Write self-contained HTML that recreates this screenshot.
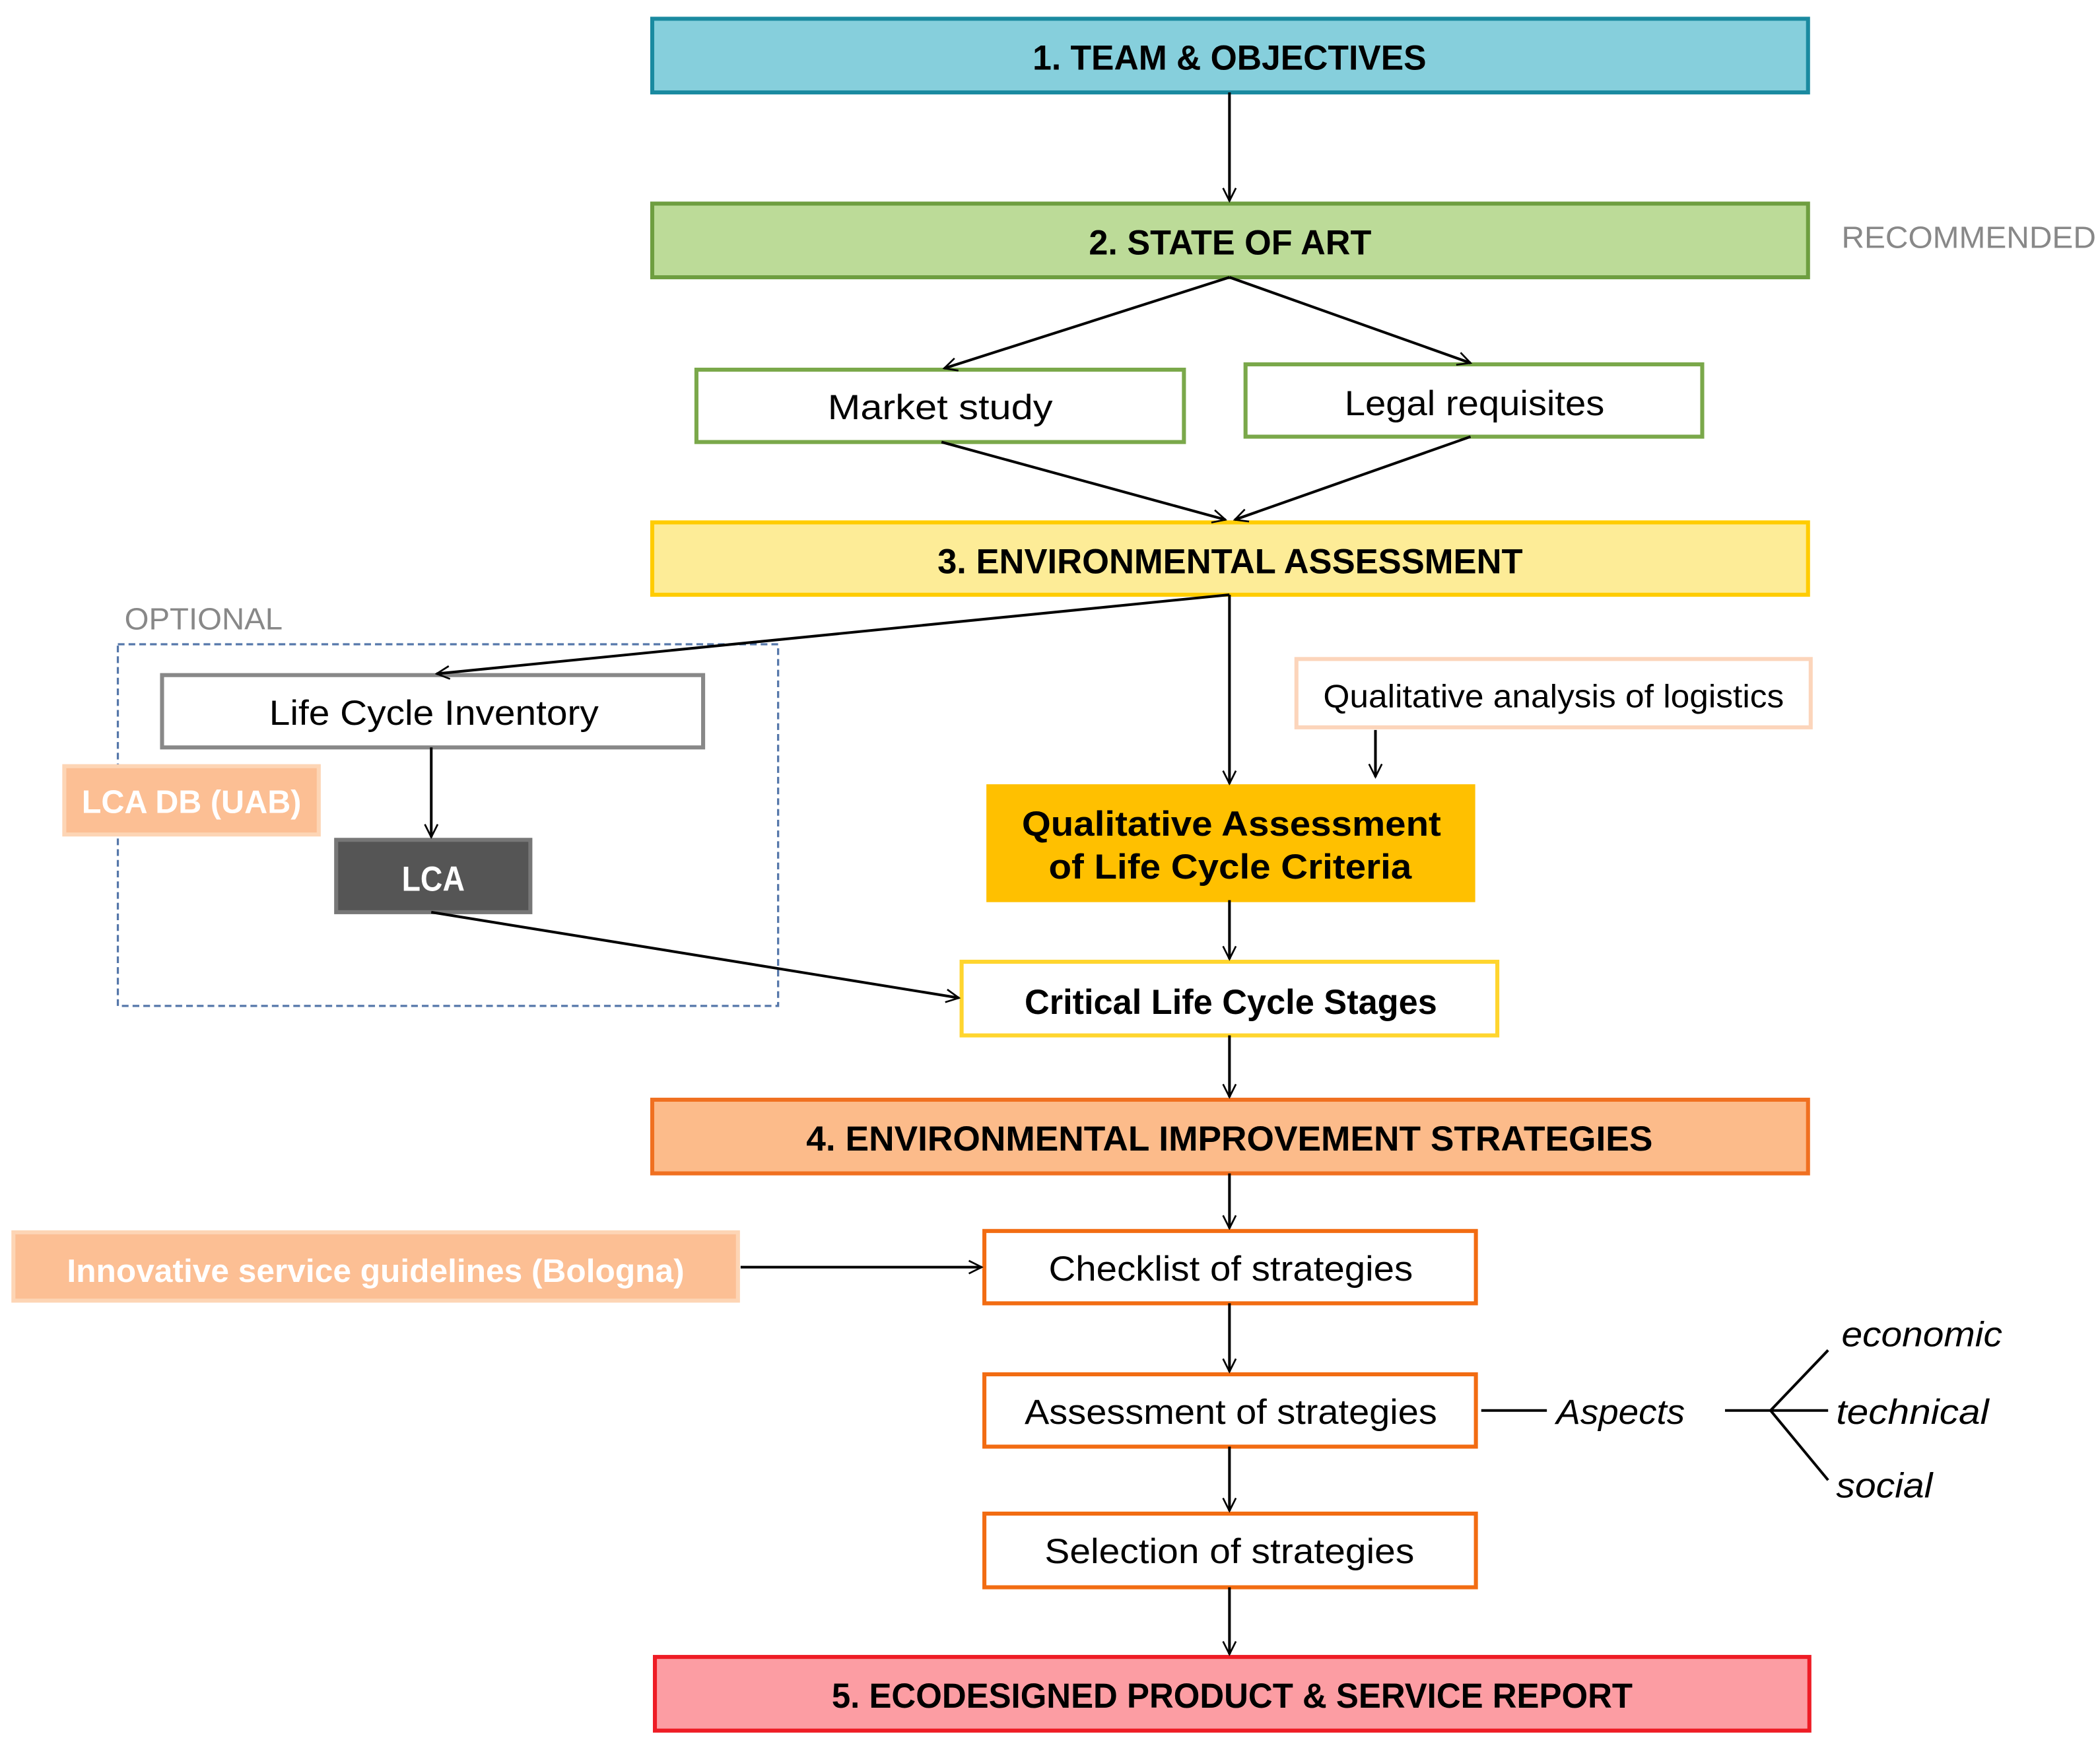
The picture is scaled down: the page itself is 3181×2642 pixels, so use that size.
<!DOCTYPE html>
<html><head><meta charset="utf-8"><style>
html,body{margin:0;padding:0;background:#fff}
svg{display:block}
text{font-family:"Liberation Sans Narrow","Liberation Sans",sans-serif}
</style></head><body>
<svg width="3181" height="2642" viewBox="0 0 1568 1302" preserveAspectRatio="none" xmlns="http://www.w3.org/2000/svg">
<defs>
<marker id="a" viewBox="0 0 20 20" refX="18" refY="10" markerWidth="12" markerHeight="12" markerUnits="userSpaceOnUse" orient="auto">
<path d="M2,2 L18,10 L2,18" fill="none" stroke="#000" stroke-width="2.2"/>
</marker>
</defs>
<g stroke-width="3">
<rect x="487" y="14" width="863" height="55" fill="#86cfdc" stroke="#1a8aa0"/>
<rect x="487" y="152" width="863" height="55" fill="#bcdb98" stroke="#6e9e40"/>
<rect x="520" y="276" width="364" height="54" fill="#fff" stroke="#7aa84a"/>
<rect x="930" y="272" width="341" height="54" fill="#fff" stroke="#7aa84a"/>
<rect x="487" y="390" width="863" height="54" fill="#fdec97" stroke="#ffcc00"/>
<rect x="88" y="481" width="493" height="270" fill="none" stroke="#5577aa" stroke-width="1.6" stroke-dasharray="5,3"/>
<rect x="121" y="504" width="404" height="54" fill="#fff" stroke="#888"/>
<rect x="48" y="572" width="190" height="51" fill="#fcbf94" stroke="#fdd5b5"/>
<rect x="251" y="627" width="145" height="54" fill="#555" stroke="#777"/>
<rect x="968" y="492" width="384" height="51" fill="#fff" stroke="#fcd5bb"/>
<rect x="738" y="587" width="362" height="85" fill="#ffc000" stroke="#ffc000"/>
<rect x="718" y="718" width="400" height="55" fill="#fff" stroke="#ffd52e"/>
<rect x="487" y="821" width="863" height="55" fill="#fcbb8a" stroke="#f07020"/>
<rect x="10" y="920" width="541" height="51" fill="#fcbf94" stroke="#fdd5b5"/>
<rect x="735" y="919" width="367" height="54" fill="#fff" stroke="#f26c12"/>
<rect x="735" y="1026" width="367" height="54" fill="#fff" stroke="#f26c12"/>
<rect x="735" y="1130" width="367" height="55" fill="#fff" stroke="#f26c12"/>
<rect x="489" y="1237" width="862" height="55" fill="#fc9da3" stroke="#ee1c25"/>
</g>
<g stroke="#000" stroke-width="2" fill="none" marker-end="url(#a)">
<line x1="918" y1="69" x2="918" y2="150"/>
<line x1="918" y1="207" x2="705" y2="275"/>
<line x1="918" y1="207" x2="1098" y2="271"/>
<line x1="703" y1="330" x2="915" y2="388"/>
<line x1="1098" y1="326" x2="922" y2="388"/>
<line x1="918" y1="444" x2="918" y2="585"/>
<line x1="918" y1="444" x2="326" y2="503"/>
<line x1="322" y1="558" x2="322" y2="625"/>
<line x1="1027" y1="545" x2="1027" y2="580"/>
<line x1="918" y1="672" x2="918" y2="716"/>
<line x1="322" y1="681" x2="716" y2="745"/>
<line x1="918" y1="773" x2="918" y2="819"/>
<line x1="918" y1="876" x2="918" y2="917"/>
<line x1="553" y1="946" x2="733" y2="946"/>
<line x1="918" y1="973" x2="918" y2="1024"/>
<line x1="918" y1="1080" x2="918" y2="1128"/>
<line x1="918" y1="1185" x2="918" y2="1235"/>
</g>
<g stroke="#000" stroke-width="2" fill="none">
<line x1="1106" y1="1053" x2="1155" y2="1053"/>
<line x1="1288" y1="1053" x2="1365" y2="1053"/>
<line x1="1322" y1="1053" x2="1365" y2="1008"/>
<line x1="1322" y1="1053" x2="1365" y2="1105"/>
</g>
<g font-size="26" text-anchor="start">
<text x="771" y="52" font-weight="bold" textLength="294" lengthAdjust="spacingAndGlyphs">1. TEAM &amp; OBJECTIVES</text>
<text x="813" y="190" font-weight="bold" textLength="211" lengthAdjust="spacingAndGlyphs">2. STATE OF ART</text>
<text x="1375" y="185" font-size="23" fill="#888" textLength="190" lengthAdjust="spacingAndGlyphs">RECOMMENDED</text>
<text x="618" y="313" textLength="168" lengthAdjust="spacingAndGlyphs">Market study</text>
<text x="1004" y="310" textLength="194" lengthAdjust="spacingAndGlyphs">Legal requisites</text>
<text x="700" y="428" font-weight="bold" textLength="437" lengthAdjust="spacingAndGlyphs">3. ENVIRONMENTAL ASSESSMENT</text>
<text x="93" y="470" font-size="23" fill="#888" textLength="118" lengthAdjust="spacingAndGlyphs">OPTIONAL</text>
<text x="201" y="541" textLength="246" lengthAdjust="spacingAndGlyphs">Life Cycle Inventory</text>
<text x="61" y="607" font-size="24" font-weight="bold" fill="#fff" textLength="164" lengthAdjust="spacingAndGlyphs">LCA DB  (UAB)</text>
<text x="300" y="665" font-weight="bold" fill="#fff" textLength="47" lengthAdjust="spacingAndGlyphs">LCA</text>
<text x="988" y="528" font-size="24" textLength="344" lengthAdjust="spacingAndGlyphs">Qualitative analysis of logistics</text>
<text x="763" y="624" font-weight="bold" textLength="313" lengthAdjust="spacingAndGlyphs">Qualitative Assessment</text>
<text x="783" y="656" font-weight="bold" textLength="271" lengthAdjust="spacingAndGlyphs">of Life Cycle Criteria</text>
<text x="765" y="757" font-weight="bold" textLength="308" lengthAdjust="spacingAndGlyphs">Critical Life Cycle Stages</text>
<text x="602" y="859" font-weight="bold" textLength="632" lengthAdjust="spacingAndGlyphs">4. ENVIRONMENTAL IMPROVEMENT STRATEGIES</text>
<text x="50" y="957" font-size="24" font-weight="bold" fill="#fff" textLength="461" lengthAdjust="spacingAndGlyphs">Innovative service guidelines  (Bologna)</text>
<text x="783" y="956" textLength="272" lengthAdjust="spacingAndGlyphs">Checklist of strategies</text>
<text x="765" y="1063" textLength="308" lengthAdjust="spacingAndGlyphs">Assessment of strategies</text>
<text x="780" y="1167" textLength="276" lengthAdjust="spacingAndGlyphs">Selection of strategies</text>
<text x="621" y="1275" font-weight="bold" textLength="598" lengthAdjust="spacingAndGlyphs">5. ECODESIGNED PRODUCT &amp; SERVICE REPORT</text>
<text x="1162" y="1063" font-style="italic" textLength="96" lengthAdjust="spacingAndGlyphs">Aspects</text>
<text x="1375" y="1005" font-style="italic" textLength="120" lengthAdjust="spacingAndGlyphs">economic</text>
<text x="1371" y="1063" font-style="italic" textLength="114" lengthAdjust="spacingAndGlyphs">technical</text>
<text x="1371" y="1118" font-style="italic" textLength="72" lengthAdjust="spacingAndGlyphs">social</text>
</g>
</svg>
</body></html>
